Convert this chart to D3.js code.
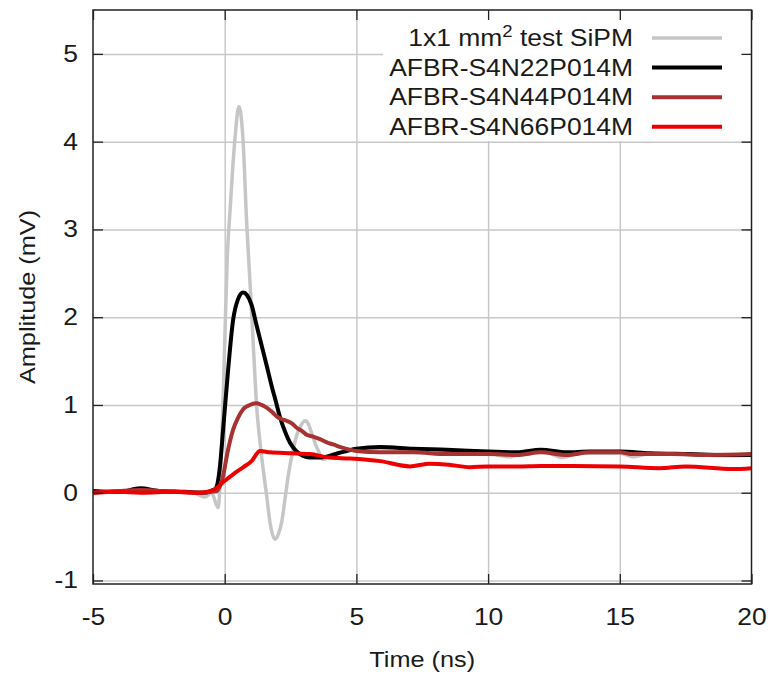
<!DOCTYPE html>
<html>
<head>
<meta charset="utf-8">
<script src="https://cdn.jsdelivr.net/npm/d3@7/dist/d3.min.js"></script>
<style>
  body { margin: 0; background: #fff; }
  text { font-family: "Liberation Sans", Arial, sans-serif; fill: #1a1a1a; }
</style>
</head>
<body>
<script>
// tick labels
var xTicks = [-5, 0, 5, 10, 15, 20];
var yTicks = [-1, 0, 1, 2, 3, 4, 5];

// 1x1 mm2 test SiPM (grey)
var sipmT = [-5, -4, -3, -2, -1.2, -0.75, -0.5, -0.25, -0.12, 0, 0.1, 0.2, 0.38, 0.54, 0.7, 0.83, 0.96, 1.1, 1.21,
  1.35, 1.46, 1.6, 1.72, 1.91, 2.05, 2.16, 2.3, 2.41, 2.55, 2.73, 2.9, 3.05, 3.18, 3.3, 3.45, 3.55, 3.74, 4.0, 4.5,
  5, 6, 7, 8, 9, 10, 10.8, 11.5, 12.2, 12.8, 13.5, 14.3, 15, 15.5, 16.2, 17, 18, 19, 20];
var sipmV = [0.0, 0.02, 0.0, 0.01, 0.0, -0.05, 0.0, -0.17, 0.5, 1.7, 2.7, 3.2, 4.0, 4.4, 4.0, 3.1, 2.4, 1.6, 1.0,
  0.55, 0.27, -0.05, -0.34, -0.53, -0.46, -0.34, -0.05, 0.19, 0.42, 0.65, 0.77, 0.82, 0.78, 0.68, 0.55, 0.48, 0.38, 0.43, 0.46,
  0.5, 0.5, 0.49, 0.47, 0.46, 0.45, 0.41, 0.46, 0.46, 0.40, 0.45, 0.45, 0.45, 0.41, 0.45, 0.44, 0.43, 0.42, 0.43];

// AFBR-S4N22P014M (black)
var n22T = [-5, -4, -3.2, -2.5, -1.5, -0.8, -0.37, -0.18, -0.06, 0.13, 0.32, 0.5, 0.7, 0.85, 1.02, 1.2, 1.4, 1.6,
  1.78, 1.95, 2.1, 2.3, 2.48, 2.7, 2.86, 3.05, 3.24, 3.6, 4.0, 4.3, 4.63, 5, 5.9, 7.16, 8.43, 10, 11.09, 12.0,
  12.98, 13.87, 15, 16.14, 17.66, 19, 20];
var n22V = [0.02, 0.01, 0.05, 0.02, 0.01, 0.0, 0.04, 0.3, 0.72, 1.4, 1.97, 2.2, 2.28, 2.25, 2.14, 1.92, 1.68, 1.44,
  1.22, 1.03, 0.86, 0.69, 0.57, 0.48, 0.44, 0.41, 0.4, 0.4, 0.42, 0.45, 0.475, 0.5, 0.52, 0.5, 0.49, 0.47, 0.46, 0.49,
  0.46, 0.47, 0.47, 0.45, 0.44, 0.43, 0.43];

// AFBR-S4N44P014M (dark red)
var n44T = [-5, -4, -3.2, -2, -1, -0.3, -0.06, 0.1, 0.32, 0.5, 0.7, 0.95, 1.21, 1.4, 1.59, 1.8, 1.97, 2.15, 2.35,
  2.55, 2.73, 2.95, 3.11, 3.35, 3.62, 3.9, 4.12, 4.4, 4.75, 5, 5.9, 7.16, 8.43, 10, 11.09, 12.0, 12.98, 13.87, 15,
  15.5, 17, 18.3, 20];
var n44V = [0.0, 0.02, 0.03, 0.01, 0.0, 0.02, 0.19, 0.45, 0.72, 0.85, 0.95, 1.0, 1.02, 1.0, 0.97, 0.92, 0.87, 0.84, 0.82,
  0.79, 0.74, 0.7, 0.66, 0.64, 0.61, 0.57, 0.55, 0.52, 0.49, 0.475, 0.46, 0.46, 0.44, 0.44, 0.43, 0.46, 0.43, 0.46, 0.46,
  0.44, 0.44, 0.43, 0.44];

// AFBR-S4N66P014M (red)
var n66T = [-5, -4, -3.2, -2, -1, -0.44, -0.06, 0.32, 0.7, 1.02, 1.34, 1.72, 2.48, 3.24, 4.0, 4.75, 5.9, 7.03, 7.79,
  8.5, 9.31, 10, 11.1, 12, 13.2, 15, 16.5, 17.5, 19.3, 20];
var n66V = [0.0, 0.01, 0.0, 0.01, 0.0, 0.03, 0.12, 0.21, 0.29, 0.36, 0.475, 0.46, 0.45, 0.44, 0.4, 0.39, 0.36, 0.3, 0.33,
  0.32, 0.29, 0.3, 0.3, 0.305, 0.305, 0.3, 0.28, 0.3, 0.27, 0.28];

var seriesNames = ["1x1 mm\u00b2 test SiPM", "AFBR-S4N22P014M", "AFBR-S4N44P014M", "AFBR-S4N66P014M"];
var seriesColors = ["#c6c6c6", "#000000", "#a83232", "#ee0000"];
var seriesWidths = [3.5, 4, 4, 4];

var series = [
  {name: seriesNames[0], t: sipmT, v: sipmV},
  {name: seriesNames[1], t: n22T, v: n22V},
  {name: seriesNames[2], t: n44T, v: n44V},
  {name: seriesNames[3], t: n66T, v: n66V}
];

var W = 773, H = 677;
var margin = {top: 10, right: 21.5, bottom: 93, left: 93};
var width = W - margin.left - margin.right,
    height = H - margin.top - margin.bottom;
var sx = 1.15; // the font in the picture is wide, stretch along the baseline
var fs = 23;

var svg = d3.select("body").append("svg").attr("width", W).attr("height", H);
var g = svg.append("g").attr("transform", "translate(" + margin.left + "," + margin.top + ")");

var x = d3.scaleLinear().domain([-5, 20]).range([0, width]);
var y = d3.scaleLinear().domain([-1.04, 5.5]).range([height, 0]);

// grid
g.append("g")
  .attr("transform", "translate(0," + height + ")")
  .call(d3.axisBottom(x).tickValues(xTicks.slice(1, -1)).tickSize(-height).tickFormat(""))
  .call(function(s) { s.select(".domain").remove(); })
  .selectAll("line").attr("stroke", "#c8c8c8").attr("stroke-width", 1.5);
g.append("g")
  .call(d3.axisLeft(y).tickValues(yTicks).tickSize(-width).tickFormat(""))
  .call(function(s) { s.select(".domain").remove(); })
  .selectAll("line").attr("stroke", "#c8c8c8").attr("stroke-width", 1.5);

// opaque key box
var keyLeft = 290, keyBottom = 131;
g.append("rect").attr("x", keyLeft).attr("y", 0)
  .attr("width", width - keyLeft).attr("height", keyBottom).attr("fill", "#fff");

// lines
var line = d3.line()
  .x(function(d) { return x(d[0]); })
  .y(function(d) { return y(d[1]); })
  .curve(d3.curveMonotoneX);

var plot = g.append("g");
series.forEach(function(s, i) {
  plot.append("path")
    .datum(d3.zip(s.t, s.v))
    .attr("fill", "none")
    .attr("stroke", seriesColors[i])
    .attr("stroke-width", seriesWidths[i])
    .attr("stroke-linejoin", "round")
    .attr("d", line);
});

// frame + mirrored inward ticks
var frameColor = "#222";
function styleAxis(s) {
  s.select(".domain").remove();
  s.selectAll("line").attr("stroke", frameColor).attr("stroke-width", 1.3);
  s.selectAll("text").attr("font-size", fs).attr("fill", "#1a1a1a").attr("font-family", null);
}
var fmt = function(d) { return String(d); };

var xb = g.append("g").attr("transform", "translate(0," + height + ")")
  .call(d3.axisBottom(x).tickValues(xTicks).tickSize(-10).tickPadding(25).tickFormat(fmt))
  .call(styleAxis);
xb.selectAll("text").attr("transform", "scale(" + sx + ",1)");

g.append("g")
  .call(d3.axisTop(x).tickValues(xTicks).tickSize(-10).tickFormat(""))
  .call(styleAxis);

var yl = g.append("g")
  .call(d3.axisLeft(y).tickValues(yTicks).tickSize(-10).tickPadding(13).tickFormat(fmt))
  .call(styleAxis);
yl.selectAll("text").attr("transform", "scale(" + sx + ",1)");

g.append("g").attr("transform", "translate(" + width + ",0)")
  .call(d3.axisRight(y).tickValues(yTicks).tickSize(-10).tickFormat(""))
  .call(styleAxis);

g.append("rect")
  .attr("width", width).attr("height", height)
  .attr("fill", "none").attr("stroke", frameColor).attr("stroke-width", 1.5);

// axis titles
svg.append("text")
  .attr("transform", "translate(" + (margin.left + width / 2) + ",667) scale(" + sx + ",1)")
  .attr("text-anchor", "middle")
  .attr("font-size", 22)
  .text("Time (ns)");

svg.append("text")
  .attr("transform", "translate(35," + (margin.top + height / 2) + ") rotate(-90) scale(" + sx + ",1)")
  .attr("text-anchor", "middle")
  .attr("font-size", 22)
  .text("Amplitude (mV)");

// key
var keyTextX = 633, keySample = [652, 722], keyRow0 = 38, keyStep = 29.6;
series.forEach(function(s, i) {
  var yy = keyRow0 + i * keyStep;
  var t = svg.append("text")
    .attr("transform", "translate(" + keyTextX + "," + yy + ") scale(" + sx + ",1)")
    .attr("text-anchor", "end")
    .attr("dy", "0.36em")
    .attr("font-size", fs);
  var parts = s.name.split("\u00b2");
  if (parts.length > 1) {
    t.append("tspan").text(parts[0]);
    t.append("tspan").attr("font-size", fs * 0.7).attr("dy", "-0.6em").text("2");
    t.append("tspan").attr("dy", "0.42em").text(parts[1]);
  } else {
    t.text(s.name);
  }
  svg.append("line")
    .attr("x1", keySample[0]).attr("x2", keySample[1])
    .attr("y1", yy).attr("y2", yy)
    .attr("stroke", seriesColors[i])
    .attr("stroke-width", seriesWidths[i]);
});
</script>
</body>
</html>
